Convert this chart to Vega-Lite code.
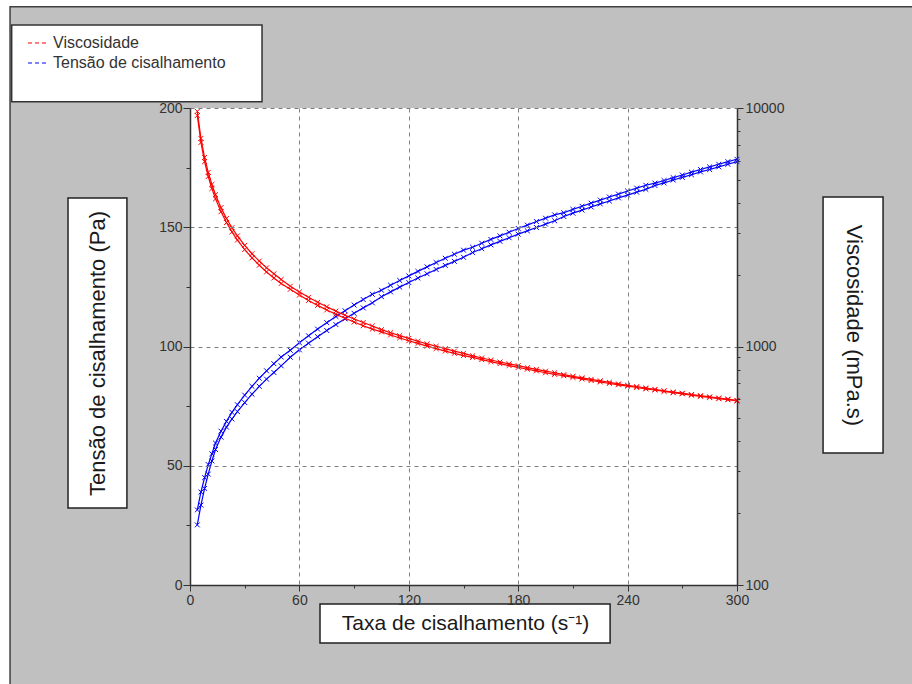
{
  "$schema": "https://vega.github.io/schema/vega-lite/v6.json",
  "width": 547,
  "height": 477,
  "autosize": "none",
  "padding": {"left": 190, "top": 108, "right": 175, "bottom": 99},
  "background": "white",
  "config": {
    "view": {"stroke": null, "fill": null},
    "font": "Liberation Sans",
    "axis": {
      "zindex": 1,
      "domainColor": "#333333",
      "domainWidth": 1.5,
      "tickColor": "#333333",
      "tickWidth": 1,
      "labelFont": "Liberation Sans",
      "labelFontSize": 14,
      "labelColor": "#333333",
      "labelFlush": false,
      "titleFont": "Liberation Sans",
      "titleFontSize": 22,
      "titleFontWeight": "normal",
      "titleColor": "#1a1a1a",
      "gridColor": "#808080",
      "gridDash": [4, 4],
      "gridWidth": 1
    }
  },
  "data": {
    "values": [
      {"taxa": 4, "tensao": 25.2, "visc": 9298, "rampa": "subida"},
      {"taxa": 6, "tensao": 33.5, "visc": 7166, "rampa": "subida"},
      {"taxa": 8, "tensao": 40.5, "visc": 5957, "rampa": "subida"},
      {"taxa": 10, "tensao": 46.5, "visc": 5162, "rampa": "subida"},
      {"taxa": 12, "tensao": 52.0, "visc": 4592, "rampa": "subida"},
      {"taxa": 14, "tensao": 56.8, "visc": 4159, "rampa": "subida"},
      {"taxa": 17, "tensao": 62.0, "visc": 3672, "rampa": "subida"},
      {"taxa": 20, "tensao": 66.2, "visc": 3308, "rampa": "subida"},
      {"taxa": 23, "tensao": 69.6, "visc": 3024, "rampa": "subida"},
      {"taxa": 26, "tensao": 72.7, "visc": 2795, "rampa": "subida"},
      {"taxa": 30, "tensao": 76.5, "visc": 2550, "rampa": "subida"},
      {"taxa": 34, "tensao": 80.0, "visc": 2353, "rampa": "subida"},
      {"taxa": 38, "tensao": 83.3, "visc": 2191, "rampa": "subida"},
      {"taxa": 42, "tensao": 86.3, "visc": 2054, "rampa": "subida"},
      {"taxa": 46, "tensao": 89.1, "visc": 1937, "rampa": "subida"},
      {"taxa": 50, "tensao": 91.9, "visc": 1837, "rampa": "subida"},
      {"taxa": 55, "tensao": 95.5, "visc": 1737, "rampa": "subida"},
      {"taxa": 60, "tensao": 98.6, "visc": 1643, "rampa": "subida"},
      {"taxa": 65, "tensao": 101.4, "visc": 1560, "rampa": "subida"},
      {"taxa": 70, "tensao": 104.1, "visc": 1487, "rampa": "subida"},
      {"taxa": 75, "tensao": 106.7, "visc": 1423, "rampa": "subida"},
      {"taxa": 80, "tensao": 109.2, "visc": 1365, "rampa": "subida"},
      {"taxa": 85, "tensao": 111.6, "visc": 1313, "rampa": "subida"},
      {"taxa": 90, "tensao": 113.9, "visc": 1266, "rampa": "subida"},
      {"taxa": 95, "tensao": 116.2, "visc": 1222, "rampa": "subida"},
      {"taxa": 100, "tensao": 118.3, "visc": 1183, "rampa": "subida"},
      {"taxa": 105, "tensao": 120.9, "visc": 1151, "rampa": "subida"},
      {"taxa": 110, "tensao": 122.9, "visc": 1118, "rampa": "subida"},
      {"taxa": 115, "tensao": 124.9, "visc": 1086, "rampa": "subida"},
      {"taxa": 120, "tensao": 126.8, "visc": 1057, "rampa": "subida"},
      {"taxa": 125, "tensao": 128.7, "visc": 1030, "rampa": "subida"},
      {"taxa": 130, "tensao": 130.5, "visc": 1004, "rampa": "subida"},
      {"taxa": 135, "tensao": 132.3, "visc": 980, "rampa": "subida"},
      {"taxa": 140, "tensao": 134.0, "visc": 957, "rampa": "subida"},
      {"taxa": 145, "tensao": 135.7, "visc": 936, "rampa": "subida"},
      {"taxa": 150, "tensao": 137.4, "visc": 916, "rampa": "subida"},
      {"taxa": 155, "tensao": 139.4, "visc": 900, "rampa": "subida"},
      {"taxa": 160, "tensao": 141.0, "visc": 881, "rampa": "subida"},
      {"taxa": 165, "tensao": 142.6, "visc": 864, "rampa": "subida"},
      {"taxa": 170, "tensao": 144.1, "visc": 847, "rampa": "subida"},
      {"taxa": 175, "tensao": 145.6, "visc": 832, "rampa": "subida"},
      {"taxa": 180, "tensao": 147.1, "visc": 817, "rampa": "subida"},
      {"taxa": 185, "tensao": 148.5, "visc": 803, "rampa": "subida"},
      {"taxa": 190, "tensao": 149.9, "visc": 790, "rampa": "subida"},
      {"taxa": 195, "tensao": 151.3, "visc": 776, "rampa": "subida"},
      {"taxa": 200, "tensao": 152.7, "visc": 764, "rampa": "subida"},
      {"taxa": 205, "tensao": 154.5, "visc": 754, "rampa": "subida"},
      {"taxa": 210, "tensao": 155.9, "visc": 742, "rampa": "subida"},
      {"taxa": 215, "tensao": 157.2, "visc": 731, "rampa": "subida"},
      {"taxa": 220, "tensao": 158.5, "visc": 720, "rampa": "subida"},
      {"taxa": 225, "tensao": 159.8, "visc": 710, "rampa": "subida"},
      {"taxa": 230, "tensao": 161.0, "visc": 700, "rampa": "subida"},
      {"taxa": 235, "tensao": 162.3, "visc": 691, "rampa": "subida"},
      {"taxa": 240, "tensao": 163.5, "visc": 682, "rampa": "subida"},
      {"taxa": 245, "tensao": 164.7, "visc": 673, "rampa": "subida"},
      {"taxa": 250, "tensao": 165.9, "visc": 664, "rampa": "subida"},
      {"taxa": 255, "tensao": 167.5, "visc": 657, "rampa": "subida"},
      {"taxa": 260, "tensao": 168.6, "visc": 648, "rampa": "subida"},
      {"taxa": 265, "tensao": 169.8, "visc": 640, "rampa": "subida"},
      {"taxa": 270, "tensao": 170.9, "visc": 633, "rampa": "subida"},
      {"taxa": 275, "tensao": 172.0, "visc": 625, "rampa": "subida"},
      {"taxa": 280, "tensao": 173.2, "visc": 618, "rampa": "subida"},
      {"taxa": 285, "tensao": 174.2, "visc": 611, "rampa": "subida"},
      {"taxa": 290, "tensao": 175.3, "visc": 604, "rampa": "subida"},
      {"taxa": 295, "tensao": 176.4, "visc": 598, "rampa": "subida"},
      {"taxa": 300, "tensao": 177.5, "visc": 591, "rampa": "subida"},
      {"taxa": 4, "tensao": 31.5, "visc": 9678, "rampa": "descida"},
      {"taxa": 6, "tensao": 39.0, "visc": 7458, "rampa": "descida"},
      {"taxa": 8, "tensao": 45.0, "visc": 6201, "rampa": "descida"},
      {"taxa": 10, "tensao": 50.5, "visc": 5372, "rampa": "descida"},
      {"taxa": 12, "tensao": 55.0, "visc": 4780, "rampa": "descida"},
      {"taxa": 14, "tensao": 59.5, "visc": 4329, "rampa": "descida"},
      {"taxa": 17, "tensao": 64.5, "visc": 3822, "rampa": "descida"},
      {"taxa": 20, "tensao": 68.6, "visc": 3444, "rampa": "descida"},
      {"taxa": 23, "tensao": 72.4, "visc": 3148, "rampa": "descida"},
      {"taxa": 26, "tensao": 75.6, "visc": 2909, "rampa": "descida"},
      {"taxa": 30, "tensao": 79.6, "visc": 2654, "rampa": "descida"},
      {"taxa": 34, "tensao": 83.3, "visc": 2449, "rampa": "descida"},
      {"taxa": 38, "tensao": 86.7, "visc": 2281, "rampa": "descida"},
      {"taxa": 42, "tensao": 89.8, "visc": 2138, "rampa": "descida"},
      {"taxa": 46, "tensao": 92.8, "visc": 2017, "rampa": "descida"},
      {"taxa": 50, "tensao": 95.6, "visc": 1911, "rampa": "descida"},
      {"taxa": 55, "tensao": 98.4, "visc": 1789, "rampa": "descida"},
      {"taxa": 60, "tensao": 101.6, "visc": 1693, "rampa": "descida"},
      {"taxa": 65, "tensao": 104.5, "visc": 1608, "rampa": "descida"},
      {"taxa": 70, "tensao": 107.3, "visc": 1533, "rampa": "descida"},
      {"taxa": 75, "tensao": 110.0, "visc": 1467, "rampa": "descida"},
      {"taxa": 80, "tensao": 112.6, "visc": 1407, "rampa": "descida"},
      {"taxa": 85, "tensao": 115.0, "visc": 1353, "rampa": "descida"},
      {"taxa": 90, "tensao": 117.4, "visc": 1304, "rampa": "descida"},
      {"taxa": 95, "tensao": 119.7, "visc": 1260, "rampa": "descida"},
      {"taxa": 100, "tensao": 121.9, "visc": 1219, "rampa": "descida"},
      {"taxa": 105, "tensao": 123.6, "visc": 1177, "rampa": "descida"},
      {"taxa": 110, "tensao": 125.7, "visc": 1142, "rampa": "descida"},
      {"taxa": 115, "tensao": 127.7, "visc": 1110, "rampa": "descida"},
      {"taxa": 120, "tensao": 129.6, "visc": 1081, "rampa": "descida"},
      {"taxa": 125, "tensao": 131.5, "visc": 1052, "rampa": "descida"},
      {"taxa": 130, "tensao": 133.4, "visc": 1026, "rampa": "descida"},
      {"taxa": 135, "tensao": 135.2, "visc": 1002, "rampa": "descida"},
      {"taxa": 140, "tensao": 137.0, "visc": 979, "rampa": "descida"},
      {"taxa": 145, "tensao": 138.7, "visc": 956, "rampa": "descida"},
      {"taxa": 150, "tensao": 140.4, "visc": 936, "rampa": "descida"},
      {"taxa": 155, "tensao": 141.6, "visc": 914, "rampa": "descida"},
      {"taxa": 160, "tensao": 143.3, "visc": 895, "rampa": "descida"},
      {"taxa": 165, "tensao": 144.9, "visc": 878, "rampa": "descida"},
      {"taxa": 170, "tensao": 146.4, "visc": 861, "rampa": "descida"},
      {"taxa": 175, "tensao": 147.9, "visc": 846, "rampa": "descida"},
      {"taxa": 180, "tensao": 149.5, "visc": 831, "rampa": "descida"},
      {"taxa": 185, "tensao": 150.9, "visc": 815, "rampa": "descida"},
      {"taxa": 190, "tensao": 152.4, "visc": 802, "rampa": "descida"},
      {"taxa": 195, "tensao": 153.8, "visc": 788, "rampa": "descida"},
      {"taxa": 200, "tensao": 155.2, "visc": 776, "rampa": "descida"},
      {"taxa": 205, "tensao": 156.1, "visc": 762, "rampa": "descida"},
      {"taxa": 210, "tensao": 157.5, "visc": 750, "rampa": "descida"},
      {"taxa": 215, "tensao": 158.8, "visc": 739, "rampa": "descida"},
      {"taxa": 220, "tensao": 160.1, "visc": 728, "rampa": "descida"},
      {"taxa": 225, "tensao": 161.4, "visc": 718, "rampa": "descida"},
      {"taxa": 230, "tensao": 162.7, "visc": 708, "rampa": "descida"},
      {"taxa": 235, "tensao": 163.9, "visc": 697, "rampa": "descida"},
      {"taxa": 240, "tensao": 165.2, "visc": 688, "rampa": "descida"},
      {"taxa": 245, "tensao": 166.4, "visc": 679, "rampa": "descida"},
      {"taxa": 250, "tensao": 167.6, "visc": 670, "rampa": "descida"},
      {"taxa": 255, "tensao": 168.5, "visc": 661, "rampa": "descida"},
      {"taxa": 260, "tensao": 169.6, "visc": 652, "rampa": "descida"},
      {"taxa": 265, "tensao": 170.8, "visc": 644, "rampa": "descida"},
      {"taxa": 270, "tensao": 171.9, "visc": 637, "rampa": "descida"},
      {"taxa": 275, "tensao": 173.1, "visc": 629, "rampa": "descida"},
      {"taxa": 280, "tensao": 174.2, "visc": 622, "rampa": "descida"},
      {"taxa": 285, "tensao": 175.3, "visc": 615, "rampa": "descida"},
      {"taxa": 290, "tensao": 176.4, "visc": 608, "rampa": "descida"},
      {"taxa": 295, "tensao": 177.5, "visc": 602, "rampa": "descida"},
      {"taxa": 300, "tensao": 178.5, "visc": 595, "rampa": "descida"}
    ]
  },
  "layer": [
    {
      "layer": [
        {
          "data": {"values": [{}]},
          "mark": {"type": "rect", "fill": "#c0c0c0", "stroke": "#404040", "strokeWidth": 1.5},
          "encoding": {
            "x": {"datum": -98.7, "type": "quantitative", "scale": {"domain": [0, 300], "nice": false}},
            "x2": {"datum": 400},
            "y": {"datum": 242.5, "type": "quantitative", "scale": {"domain": [0, 200], "nice": false}},
            "y2": {"datum": -45}
          }
        },
        {
          "data": {"values": [{}]},
          "mark": {"type": "rect", "fill": "white"},
          "encoding": {
            "x": {"datum": 0, "type": "quantitative", "scale": {"domain": [0, 300], "nice": false}},
            "x2": {"datum": 300},
            "y": {"datum": 0, "type": "quantitative", "scale": {"domain": [0, 200], "nice": false}},
            "y2": {"datum": 200}
          }
        },
        {
          "data": {"values": [{}]},
          "mark": {"type": "rect", "fill": "white", "stroke": "#333333", "strokeWidth": 1.5},
          "encoding": {
            "x": {"datum": -97.8, "type": "quantitative", "scale": {"domain": [0, 300], "nice": false}},
            "x2": {"datum": 39.5},
            "y": {"datum": 234.8, "type": "quantitative", "scale": {"domain": [0, 200], "nice": false}},
            "y2": {"datum": 202.6}
          }
        },
        {
          "data": {"values": [{}]},
          "mark": {"type": "rect", "fill": "white", "stroke": "#222222", "strokeWidth": 1.5},
          "encoding": {
            "x": {"datum": -66.9, "type": "quantitative", "scale": {"domain": [0, 300], "nice": false}},
            "x2": {"datum": -34.6},
            "y": {"datum": 162.3, "type": "quantitative", "scale": {"domain": [0, 200], "nice": false}},
            "y2": {"datum": 32.3}
          }
        },
        {
          "data": {"values": [{}]},
          "mark": {"type": "rect", "fill": "white", "stroke": "#222222", "strokeWidth": 1.5},
          "encoding": {
            "x": {"datum": 347.2, "type": "quantitative", "scale": {"domain": [0, 300], "nice": false}},
            "x2": {"datum": 380.1},
            "y": {"datum": 162.7, "type": "quantitative", "scale": {"domain": [0, 200], "nice": false}},
            "y2": {"datum": 55.3}
          }
        },
        {
          "data": {"values": [{}]},
          "mark": {"type": "rect", "fill": "white", "stroke": "#222222", "strokeWidth": 1.5},
          "encoding": {
            "x": {"datum": 71.3, "type": "quantitative", "scale": {"domain": [0, 300], "nice": false}},
            "x2": {"datum": 230.4},
            "y": {"datum": -8.0, "type": "quantitative", "scale": {"domain": [0, 200], "nice": false}},
            "y2": {"datum": -24.3}
          }
        },
        {
          "mark": {"type": "line", "strokeWidth": 1.2},
          "encoding": {
            "x": {
              "field": "taxa", "type": "quantitative",
              "scale": {"domain": [0, 300], "nice": false},
              "axis": {
                "zindex": 2,
                "title": "Taxa de cisalhamento (s⁻¹)",
                "titleFontSize": 21,
                "values": [0, 30, 60, 90, 120, 150, 180, 210, 240, 270, 300],
                "format": "d",
                "labelExpr": "datum.value % 60 == 0 ? datum.label : ''",
                "tickSize": {"condition": {"test": "datum.value % 60 == 0", "value": 6}, "value": 3},
                "grid": true,
                "gridOpacity": {"condition": {"test": "datum.value % 60 == 0", "value": 1}, "value": 0},
                "labelPadding": 2,
                "titleX": 275,
                "titleY": 38.5,
                "titleAlign": "center",
                "titleBaseline": "middle"
              }
            },
            "y": {
              "field": "tensao", "type": "quantitative",
              "scale": {"domain": [0, 200], "nice": false},
              "axis": {
                "zindex": 2,
                "orient": "left",
                "title": "Tensão de cisalhamento (Pa)",
                "values": [0, 25, 50, 75, 100, 125, 150, 175, 200],
                "labelExpr": "datum.value % 50 == 0 ? datum.label : ''",
                "tickSize": {"condition": {"test": "datum.value % 50 == 0", "value": 7}, "value": 4},
                "grid": true,
                "gridOpacity": {"condition": {"test": "datum.value % 50 == 0", "value": 1}, "value": 0},
                "labelPadding": 1,
                "titleAngle": 270,
                "titleX": -92.5,
                "titleY": 245,
                "titleAlign": "center",
                "titleBaseline": "middle"
              }
            },
            "detail": {"field": "rampa"},
            "color": {
              "datum": "Tensão de cisalhamento", "type": "nominal",
              "scale": {"domain": ["Viscosidade", "Tensão de cisalhamento"], "range": ["#ff0000", "#0000ff"]},
              "legend": {
                "orient": "none",
                "legendX": -168,
                "legendY": -80,
                "title": null,
                "symbolType": "stroke",
                "symbolSize": 324,
                "symbolDash": [4, 3],
                "symbolStrokeWidth": 1.2,
                "labelFont": "Liberation Sans",
                "labelFontSize": 16,
                "labelColor": "#333333",
                "labelLimit": 400,
                "labelOffset": 6,
                "rowPadding": 2,
                "padding": 5,
                "zindex": 2
              }
            }
          }
        },
        {
          "mark": {"type": "point", "shape": "M-1,-1L1,1M-1,1L1,-1", "size": 24, "filled": false, "strokeWidth": 1, "color": "#0000ff", "opacity": 1},
          "encoding": {
            "x": {"field": "taxa", "type": "quantitative", "scale": {"domain": [0, 300], "nice": false}},
            "y": {"field": "tensao", "type": "quantitative", "scale": {"domain": [0, 200], "nice": false}}
          }
        }
      ]
    },
    {
      "layer": [
        {
          "mark": {"type": "line", "strokeWidth": 1.2},
          "encoding": {
            "x": {"field": "taxa", "type": "quantitative", "scale": {"domain": [0, 300], "nice": false}},
            "y": {
              "field": "visc", "type": "quantitative",
              "scale": {"type": "log", "domain": [100, 10000], "nice": false},
              "axis": {
                "zindex": 2,
                "orient": "right",
                "title": "Viscosidade (mPa.s)",
                "values": [100, 200, 300, 400, 500, 600, 700, 800, 900, 1000, 2000, 3000, 4000, 5000, 6000, 7000, 8000, 9000, 10000],
                "format": "d",
                "labelExpr": "(datum.value == 100 || datum.value == 1000 || datum.value == 10000) ? datum.label : ''",
                "tickSize": {"condition": {"test": "datum.value == 100 || datum.value == 1000 || datum.value == 10000", "value": 6}, "value": 3},
                "grid": false,
                "labelPadding": 2,
                "titleAngle": 90,
                "titleX": 116,
                "titleY": 217,
                "titleAlign": "center",
                "titleBaseline": "middle"
              }
            },
            "detail": {"field": "rampa"},
            "color": {"datum": "Viscosidade", "type": "nominal"}
          }
        },
        {
          "mark": {"type": "point", "shape": "M-1,-1L1,1M-1,1L1,-1", "size": 24, "filled": false, "strokeWidth": 1, "color": "#ff0000", "opacity": 1},
          "encoding": {
            "x": {"field": "taxa", "type": "quantitative", "scale": {"domain": [0, 300], "nice": false}},
            "y": {"field": "visc", "type": "quantitative", "scale": {"type": "log", "domain": [100, 10000], "nice": false}}
          }
        }
      ]
    }
  ],
  "resolve": {"scale": {"y": "independent"}}
}
